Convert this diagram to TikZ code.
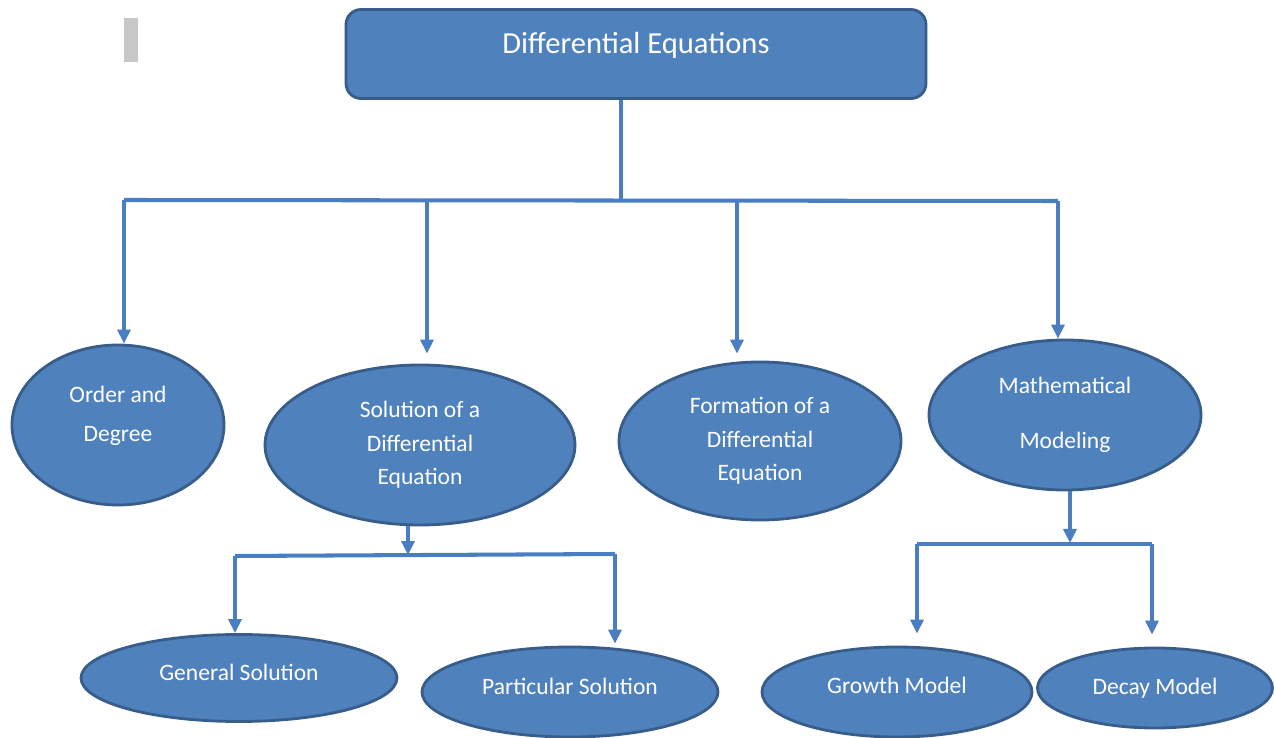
\documentclass[tikz,border=0pt]{standalone}
\usepackage{fontspec}
\setmainfont{Carlito}
\usepackage{tikz}
\usetikzlibrary{calc,positioning,shapes.geometric,arrows.meta}
\definecolor{boxfill}{HTML}{4F81BD}
\definecolor{boxline}{HTML}{385D8A}
\definecolor{linkcol}{HTML}{4A7EC2}

\begin{document}
\begin{tikzpicture}[ln/.style={draw=linkcol, line width=2.3pt}, arr/.style={ln, -{Triangle[length=0.28cm,width=0.26cm]}}]
\tikzstyle{blob}=[ellipse, draw=boxline, fill=boxfill, line width=1.6pt, text=white, align=center, inner sep=0pt, font=\fontsize{13.4}{19}\selectfont]
\tikzstyle{hd}=[rectangle, rounded corners=0.3cm, draw=boxline, fill=boxfill, line width=1.6pt, text=white, minimum width=11.6cm, inner ysep=0pt, text height=0.88cm, text depth=0.9cm, font=\fontsize{17.4}{20}\selectfont]
\useasboundingbox (0,0) rectangle (25.48,-14.76);
\fill[black!22] (2.48,-0.36) rectangle (2.76,-1.24);
\node[hd] (de) at (12.72,-1.08){Differential Equations};
\node[blob, minimum width=4.24cm, minimum height=3.2cm, text depth=0.44cm] (o) at (2.36,-8.5){Order and\\[3pt]Degree};
\node[blob, minimum width=6.2cm, minimum height=3.2cm] (s) at (8.4,-8.9){Solution of a\\Differential\\Equation};
\node[blob, minimum width=5.64cm, minimum height=3.16cm] (f) at (15.2,-8.82){Formation of a\\Differential\\Equation};
\node[blob, minimum width=5.44cm, minimum height=3.0cm] (m) at (21.3,-8.3){Mathematical\\[12pt]Modeling};
\node[blob, minimum width=6.32cm, minimum height=1.74cm, text depth=0.24cm] (g) at (4.78,-13.56){General Solution};
\node[blob, minimum width=5.92cm, minimum height=1.8cm, text depth=0.24cm] (p) at (11.4,-13.84){Particular Solution};
\node[blob, minimum width=5.4cm, minimum height=1.8cm, text depth=0.26cm] (gr) at (17.94,-13.84){Growth Model};
\node[blob, minimum width=4.7cm, minimum height=1.6cm] (dm) at (23.1,-13.76){Decay Model};
% junctions
\coordinate (t0) at (12.42,-4.0);
\coordinate (b1) at (2.48,-4.0);
\coordinate (b2) at (8.54,-4.0);
\coordinate (b3) at (14.74,-4.02);
\coordinate (b4) at (21.16,-4.02);
\coordinate (q0) at (8.16,-11.1);
\coordinate (q1) at (4.7,-11.12);
\coordinate (q2) at (12.3,-11.08);
\coordinate (r0) at (21.4,-10.86);
\coordinate (r1) at (18.34,-10.88);
\coordinate (r2) at (23.04,-10.88);
\draw[ln] (t0 |- de.south) -- (t0);
\draw[ln] (b1) -- (b4);
\draw[ln] (q1) -- (q2);
\draw[ln] (r1) -- (r2);
\draw[arr] (q0 |- s.south) -- (q0);
\draw[arr] (r0 |- m.south) -- (r0);
\foreach \i/\j/\k in {b1/o/0,b2/s/0.2,b3/f/0.14,b4/m/0,q1/g/0,q2/p/0.04,r1/gr/0.24,r2/dm/0.24}{\draw[arr, shorten >=\k cm] (\i) -- (\i |- \j.north);}
\end{tikzpicture}
\end{document}
